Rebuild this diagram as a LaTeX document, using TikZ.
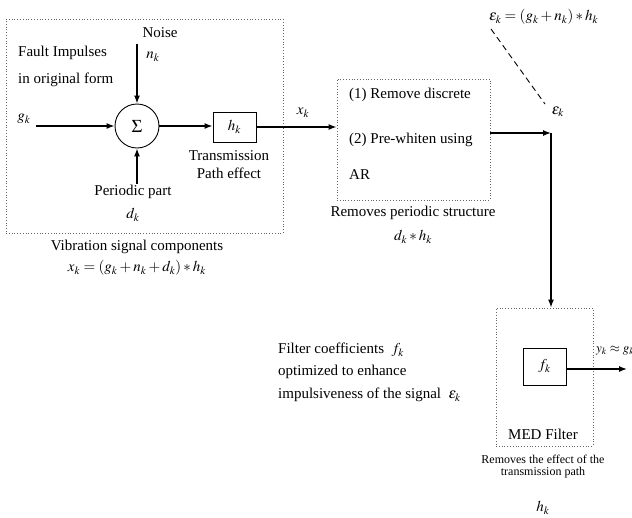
\documentclass[tikz,border=0pt]{standalone}
\usepackage{mathptmx}
\usepackage{fontspec}
\setmainfont{Liberation Serif}
\usetikzlibrary{arrows.meta,calc}
\tikzset{
  x=1pt,y=-1pt,
  dotbox/.style={draw=black!60,dotted,line width=0.8pt,minimum width=#1},
  solidbox/.style={draw=black,line width=0.9pt,inner sep=0pt},
  sig/.style={line width=1.3pt,-{Latex[length=8pt,width=6pt]}},
  plain/.style={line width=1.3pt},
  txt/.style={inner sep=0pt,font=\fontsize{15}{18}\selectfont},
  ltxt/.style={txt,anchor=west},
  stxt/.style={inner sep=0pt,font=\fontsize{12}{14}\selectfont},
}
\begin{document}
\begin{tikzpicture}
\useasboundingbox (0,0) rectangle (632,517);
% left box
\node[dotbox=277pt,minimum height=214pt] (leftbox) at (144.5,126) {};
\node[ltxt] (fault1) at (18,53) {Fault Impulses};
\node[ltxt] (fault2) at (18,80) {in original form};
\node[txt] (noise) at (160,33) {Noise};
\node[txt] (nk) at (153,57) {$n_k$};
\node[draw,circle,line width=0.9pt,minimum size=44pt,inner sep=0pt,font=\fontsize{18}{18}\selectfont] (sum) at (137,126) {$\Sigma$};
\node[txt] (gk) at (24,119) {$g_k$};
\coordinate (gstart) at (36,126);
\coordinate (nstart) at (137,44);
\coordinate (dstart) at (137,184);
\node[txt] (periodic) at (133,192) {Periodic part};
\node[txt] (dk) at (133,215) {$d_k$};
\node[solidbox,minimum width=43pt,minimum height=30pt] (hbox) at (234.5,127) {\fontsize{15}{18}\selectfont$h_k$};
\node[txt] (trans1) at (229,156) {Transmission};
\node[txt] (trans2) at (229,173) {Path effect};
\draw[sig] (gstart) -- (sum.west);
\draw[sig] (nstart) -- (sum.north);
\draw[sig] (dstart) -- (sum.south);
\draw[sig] (sum.east) -- (hbox.west |- sum.east);
\node[txt] (vib) at (137,247) {Vibration signal components};
\node[txt] (vibeq) at (137,268) {$x_k=(g_k+n_k+d_k)*h_k$};
% middle box
\node[dotbox=153pt,minimum height=121pt] (midbox) at (413.5,139.5) {};
\node[txt] (xk) at (303,113) {$x_k$};
\draw[sig] (hbox.east) -- (midbox.west |- hbox.east);
\node[ltxt] (rm1) at (349,95) {(1) Remove discrete};
\node[ltxt] (rm2) at (349,140) {(2) Pre-whiten using};
\node[ltxt] (rm3) at (349,175) {AR};
\node[txt] (rps) at (413,213) {Removes periodic structure};
\node[txt] (dh) at (413,237) {$d_k*h_k$};
% epsilon
\node[txt,anchor=west] (eqtop) at (489,17) {$\varepsilon_k=(g_k+n_k)*h_k$};
\coordinate (dashA) at (491,29);
\coordinate (dashB) at (545,104);
\node[txt] (epsk) at (558,112) {$\varepsilon_k$};
\draw[dashed,line width=0.9pt,dash pattern=on 6pt off 4pt] (dashA) -- (dashB);
\coordinate (corner) at (551,133);
\draw[sig] (midbox.east |- corner) -- (corner);
% MED box
\node[dotbox=97pt,minimum height=138pt] (medbox) at (544.5,377) {};
\draw[sig] (corner) -- (corner |- medbox.north);
\node[solidbox,minimum width=43pt,minimum height=37pt] (fbox) at (544.5,366.5) {\fontsize{15}{18}\selectfont$f_k$};
\coordinate (yend) at (627,369);
\draw[sig] (fbox.east |- yend) -- (yend);
\node[inner sep=0pt,anchor=west,font=\fontsize{13}{15}\selectfont] (yk) at (596,351) {$y_k\approx g_k$};
\node[txt] (med) at (543,434) {MED Filter};
\node[stxt] (eff1) at (543,459) {Removes the effect of the};
\node[stxt] (eff2) at (543,473) {transmission path};
\node[txt] (hk2) at (543,508) {$h_k$};
% left text
\node[ltxt] (fc1) at (278,350) {Filter coefficients\ \ $f_k$};
\node[ltxt] (fc2) at (278,372) {optimized to enhance};
\node[ltxt] (fc3) at (278,395) {impulsiveness of the signal\ \ $\varepsilon_k$};
\end{tikzpicture}
\end{document}
